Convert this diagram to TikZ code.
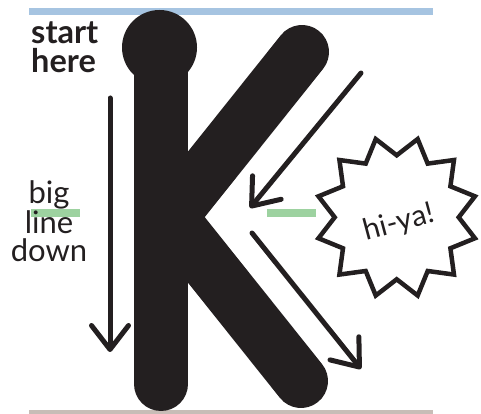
\documentclass[tikz,border=0pt]{standalone}
\usepackage{fontspec}
\setmainfont{Lato}
\usetikzlibrary{arrows.meta}
\definecolor{kblack}{RGB}{35,31,32}
\definecolor{topblue}{RGB}{166,196,225}
\definecolor{floortan}{RGB}{200,189,183}
\definecolor{markgreen}{RGB}{157,210,160}
\tikzset{
    kstroke/.style={kblack, line width=54pt, line cap=round},
    swoosh/.style={kblack, line width=5pt, line cap=round,
        -{Straight Barb[length=24pt, width=37pt, line cap=round, line join=round]}},
    burstline/.style={kblack, line width=4.5pt, line join=miter},
    tag/.style={text=kblack, inner sep=0pt, font=\fontsize{31}{28.3}\selectfont},
}

\begin{document}
\begin{tikzpicture}[x=1pt, y=1pt]
    \useasboundingbox (0,0) rectangle (481,414);
    \draw[topblue, line width=7.5pt] (29,402.7) -- (433,402.7);
    \draw[floortan, line width=7pt] (29,0) -- (433,0);

    \coordinate (stemtop) at (161,367);
    \coordinate (stembot) at (161,30);
    \coordinate (armtop) at (302,362);
    \coordinate (armbot) at (301,33);
    \draw[kstroke] (stembot) -- (stemtop);
    \fill[kblack] (159.5,366.5) circle (37.5pt);
    \draw[kstroke] (161,185.4) -- (armtop);
    \draw[kstroke] (161,208.4) -- (armbot);

    \foreach \x in {31, 267} {
        \draw[markgreen, line width=7.5pt] (\x,201) -- ++(48.5,0);
    }

    \coordinate (downfrom) at (110,316);
    \coordinate (downto) at (110,62);
    \coordinate (kickfrom) at (361,341);
    \coordinate (kickto) at (250,206);
    \coordinate (outfrom) at (252,181);
    \coordinate (outto) at (361,45);
    \foreach \a/\b in {downfrom/downto, kickfrom/kickto, outfrom/outto} {
        \draw[swoosh] (\a) -- (\b);
    }

    \coordinate (burst) at (396.7,196.7);
    \draw[burstline] ([shift={(burst)}]15:81)
        \foreach \k in {0,...,10} {
            -- ([shift={(burst)}]{30+30*\k}:62) -- ([shift={(burst)}]{45+30*\k}:81)
        } -- ([shift={(burst)}]360:62) -- cycle;

    \node (start) [tag, font=\fontsize{32.5}{29.4}\selectfont\bfseries, align=left, anchor=base west] at (31,341.3) {start\\here};
    \node (bigline) [tag, align=center, anchor=base] at (49,152.3) {big\\line\\down};
    \node (hiya) [tag, font=\fontsize{29.5}{30}\selectfont, rotate=15] at (399,191) {hi-ya!};
\end{tikzpicture}
\end{document}
